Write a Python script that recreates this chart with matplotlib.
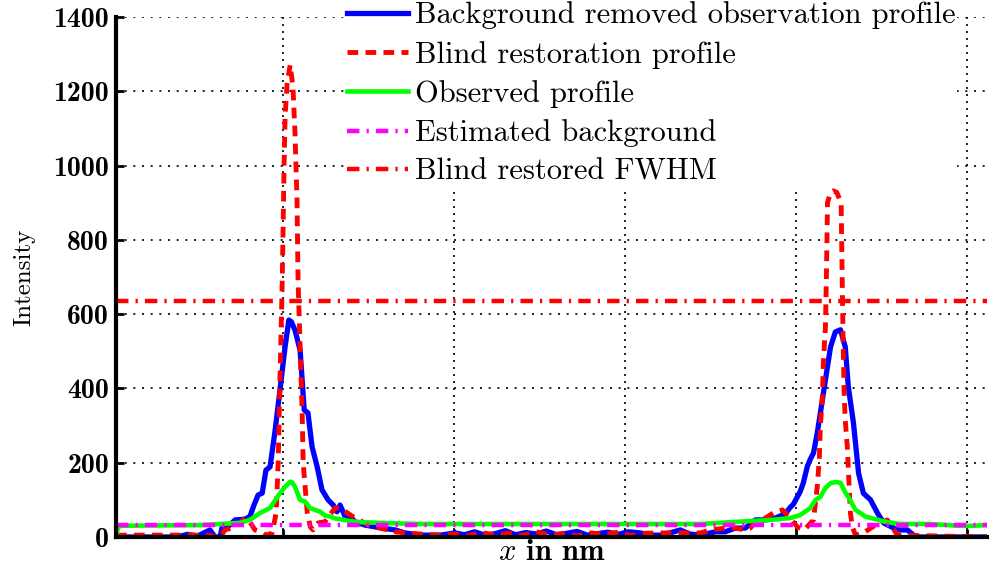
import matplotlib
matplotlib.use('Agg')
import matplotlib.pyplot as plt

plt.rcParams['mathtext.fontset'] = 'cm'
plt.rcParams['font.family'] = 'cmr10'
plt.rcParams['axes.unicode_minus'] = False

# background removed observation profile (blue)
blue_x = [1, 19, 21.8, 25, 28.5, 30, 31.5, 32, 33.8, 35.9, 38.8, 40.2, 41.4, 42.6, 43.8, 44.9, 46.1,
          47.6, 49.0, 50.5, 51.6, 52.3, 53.4, 54.9, 56.1, 57.2, 58.4, 59.9, 61.3, 63.1, 64.6, 65.7,
          66.6, 68.1, 69.5, 71.0, 73.9, 78.3, 82.7, 85.6, 90.0, 95.9, 100.3, 103, 106, 109, 112, 115,
          118, 121, 124, 127, 130, 133, 136, 139, 142, 145, 148, 151, 154.5, 157.4, 160.3, 163.5,
          166.2, 169, 172.1, 176.5, 179.4, 182.3, 185.2, 188.2, 191.1, 194.0, 196.9, 198.4, 199.3,
          201.3, 202.2, 203.4, 204.3, 205.2, 206.3, 207.2, 208.7, 210.2, 211.6, 213.1, 214.5, 215.4,
          216.9, 218.4, 219.8, 221.9, 223.9, 225.7, 229.8, 232.7, 234.5, 236, 256]
blue_y = [0, 0, 7, 3, 19, 0, 0, 24, 28, 46, 48, 55, 86, 113, 118, 180, 189,
          288, 396, 512, 584, 580, 557, 503, 342, 334, 243, 189, 127, 100, 86, 68,
          86, 55, 55, 41, 32, 25, 19, 11, 5, 5, 11, 6, 14, 5, 9, 17,
          6, 12, 8, 16, 6, 10, 15, 5, 9, 13, 7, 14, 11, 5, 5, 12,
          19, 8, 5, 14, 14, 24, 24, 46, 46, 51, 62, 80, 88,
          122, 145, 190, 210, 226, 280, 333, 423, 512, 552, 558, 512, 404,
          307, 172, 118, 100, 65, 38, 19, 19, 5, 0, 0]

# blind restoration profile (red dashed)
red_x = [1, 28.5, 30, 31.5, 32.9, 35.9, 38.8, 40.2, 41.7, 43.2, 44.6, 46.7, 47.9, 48.5, 49.0, 49.6,
         49.9, 50.2, 50.5, 51.1, 52.0, 52.8, 53.4, 54.0, 54.3, 54.9, 55.5, 55.8, 57.0, 57.9, 58.7,
         60.2, 62.2, 65.1, 66.6, 71.0, 75.4, 78.3, 82.7, 90, 95.9, 100, 104, 108, 112, 116, 120, 124,
         128, 132, 136, 140, 144, 148, 152, 156, 160.3, 166, 172.1, 175.0, 179.4, 182.3, 185.2,
         186.7, 188.2, 191.1, 194.0, 196.1, 198.4, 200.5, 202.5, 205.2, 206.3, 206.9, 207.2, 207.8,
         208.1, 208.7, 209.0, 209.3, 210.2, 211.0, 212.0, 213.3, 213.6, 213.9, 214.2, 214.5, 215.1,
         216.0, 216.6, 217.5, 219.8, 223.0, 226.8, 229.8, 256]
red_y = [5, 5, 0, 0, 19, 27, 51, 40, 19, 14, 5, 10, 65, 207, 423, 657,
         818, 997, 1131, 1222, 1271, 1212, 1088, 907, 690, 512, 334, 199, 65, 27, 19,
         38, 41, 78, 78, 51, 30, 24, 14, 8, 5, 8, 3, 12, 5, 10, 4, 14,
         6, 9, 3, 11, 7, 13, 4, 10, 11, 11, 11, 19, 24, 24, 19,
         24, 41, 51, 68, 73, 50, 27, 19, 46, 135, 210, 296, 377,
         471, 566, 711, 900, 928, 932, 928, 900, 700, 512, 377, 315, 243,
         65, 27, 5, 11, 30, 46, 5, 0]

# observed profile (green)
green_x = [1, 1.8, 10, 25.6, 37.3, 40.2, 43.2, 46.1, 49.0, 50.5, 52.0, 52.6, 53.4, 54.9, 56.4, 57.8,
           59.3, 60.8, 62.2, 63.7, 65.1, 66.6, 69.5, 72.5, 78.3, 90, 120, 154.5, 172.1, 186.7, 192.6,
           198.4, 201.3, 204.3, 205.8, 207.2, 208.7, 210.2, 211.6, 213.1, 214.5, 215.4, 217.5, 220.4,
           223.3, 226.2, 230.6, 239.4, 248.2, 251.1, 256]
green_y = [5, 30, 31, 32, 38, 46, 65, 78, 118, 135, 149, 147, 135, 100, 95, 78,
           73, 68, 58, 55, 50, 48, 43, 40, 38, 35, 35, 35, 35, 43, 46,
           51, 59, 78, 100, 108, 132, 145, 148, 146, 120, 108, 73, 55,
           48, 41, 35, 35, 30, 30, 32]

x_range = [1, 256]
background_level = 32
fwhm_level = 635

y_ticks = [0, 200, 400, 600, 800, 1000, 1200, 1400]
x_ticks = [50, 100, 150, 200, 250]

fig = plt.figure(figsize=(9.97, 5.70), dpi=100)
ax = fig.add_axes([116 / 997, 33 / 570, 871 / 997, 520 / 570])

ax.plot(blue_x, blue_y, color='#0000ff', lw=3.8, label='Background removed observation profile')
ax.plot(red_x, red_y, color='#ff0000', lw=3.5, ls=(0, (2.2, 1.5)), label='Blind restoration profile')
ax.plot(green_x, green_y, color='#00ff00', lw=3.3, label='Observed profile')
ax.plot(x_range, [background_level] * 2, color='#ff00ff', lw=3.2,
        ls=(0, (2.8, 1.6, 0.5, 1.6)), label='Estimated background')
ax.plot(x_range, [fwhm_level] * 2, color='#ff0000', lw=3.2,
        ls=(0, (2.8, 1.6, 0.5, 1.6)), label='Blind restored FWHM')

ax.set_xlim(1, 256)
ax.set_ylim(0, 1400)
ax.set_xticks(x_ticks)
ax.set_xticklabels([''] * len(x_ticks))
ax.set_yticks(y_ticks)
ax.set_yticklabels([str(v) for v in y_ticks])
ax.tick_params(direction='in', length=6, width=2, labelsize=20, pad=5, labelfontfamily='cmb10')

for s in ['top', 'right']:
    ax.spines[s].set_visible(False)
for s in ['left', 'bottom']:
    ax.spines[s].set_linewidth(3)

ax.set_axisbelow(True)
ax.yaxis.grid(True, color='k', lw=1.2, ls=(0, (1.2, 4)))
ax.xaxis.grid(True, color='k', lw=1.2, ls=(0, (1.2, 3)))

ax.set_ylabel('Intensity', fontsize=18)
ax.yaxis.set_label_coords(-0.093, 0.5)
ax.set_xlabel(r'$x$ in nm', fontsize=22, fontfamily='cmb10')
ax.xaxis.set_label_coords(0.5, -0.004)

leg = ax.legend(loc='upper left', bbox_to_anchor=(345 / 997, 1.0), bbox_transform=fig.transFigure,
                fontsize=22, frameon=True, fancybox=False, framealpha=1, edgecolor='none',
                borderpad=0.05, borderaxespad=0, handlelength=2.0, handletextpad=0.25,
                labelspacing=0.37)

fig.savefig('out.png', dpi=100)
